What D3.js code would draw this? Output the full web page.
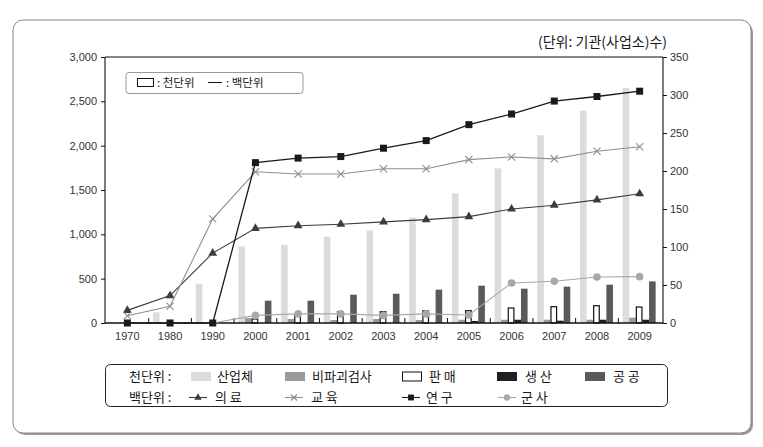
<!DOCTYPE html>
<html><head><meta charset="utf-8">
<script src="https://cdn.jsdelivr.net/npm/d3@7/dist/d3.min.js"></script>
<style>
html,body{margin:0;padding:0;background:#fff;}
svg{display:block;}
.num{font-family:"Liberation Sans Narrow","Arial Narrow","Liberation Sans",Arial,sans-serif;font-size:11px;fill:#333;}
.kr{font-family:"Noto Sans CJK KR","Noto Sans",sans-serif;fill:#1a1a1a;}
</style></head>
<body><svg id="c" width="763" height="447"></svg>
<script>
// ---- data ----
const years = ["1970","1980","1990","2000","2001","2002","2003","2004","2005","2006","2007","2008","2009"];
// bars (left axis, 천단위)
const sanup   = [0,120,443,864,883,974,1045,1190,1462,1744,2117,2395,2650]; // 산업체
const bipagoe = [0,0,0,56,45,34,45,34,37,37,37,37,60];                      // 비파괴검사
const panmae  = [0,0,0,45,94,127,127,138,139,169,184,195,180];              // 판매
const saengsan= [0,0,0,0,0,0,0,0,23,37,26,37,37];                           // 생산
const gonggong= [0,0,0,252,252,319,330,376,421,387,410,432,469];            // 공공
// lines (right axis, 백단위)
const uiryo   = [16.6,36,92,124.5,128,130,133,136,140,150,155,162,170];     // 의료
const gyoyuk  = [9.6,22,137,199,196,196,203,203,215,218.5,216,226,232];     // 교육
const yeongu  = [0,0,0,211,217,219,230,240,261,275,292,298,305];            // 연구
const gunsa   = [null,null,0,10,12,12,10,12,10.5,52.7,55,60.5,61];          // 군사
const leftTicks  = [0,500,1000,1500,2000,2500,3000];
const rightTicks = [0,50,100,150,200,250,300,350];

const barSeries = [
  {name:"산업체", label:"산업체", values:sanup, fill:"#dcdcdc", stroke:"none"},
  {name:"비파괴검사", label:"비파괴검사", values:bipagoe, fill:"#9a9a9a", stroke:"none"},
  {name:"판매", label:"판 매", values:panmae, fill:"#ffffff", stroke:"#111"},
  {name:"생산", label:"생 산", values:saengsan, fill:"#231f20", stroke:"none"},
  {name:"공공", label:"공 공", values:gonggong, fill:"#5a5a5a", stroke:"none"}
];
const lineSeries = [
  {name:"의료", label:"의 료", values:uiryo, color:"#3c3c3c", marker:"tri"},
  {name:"교육", label:"교 육", values:gyoyuk, color:"#8e8e8e", marker:"x"},
  {name:"군사", label:"군 사", values:gunsa, color:"#a8a8a8", marker:"circle"},
  {name:"연구", label:"연 구", values:yeongu, color:"#1a1a1a", marker:"sq"}
];

const svg = d3.select("#c");
const L=105, R=663, T=57, B=323;

// outer rounded frame with shadow
svg.append("rect").attr("x",15).attr("y",22).attr("width",738).attr("height",413).attr("rx",10).attr("fill","#9a9a9a");
svg.append("rect").attr("x",13).attr("y",20).attr("width",738).attr("height",413).attr("rx",10).attr("fill","#fff").attr("stroke","#8a8a8a").attr("stroke-width",1);

const x = d3.scaleBand().domain(years).range([106,661]).padding(0);
const yL = d3.scaleLinear().domain([0,3000]).range([B,T]);
const yR = d3.scaleLinear().domain([0,350]).range([B,T]);
const inner = d3.scaleBand().domain(barSeries.map(d=>d.name)).range([x.bandwidth()/2-17, x.bandwidth()/2+16]).padding(0);

// bars
barSeries.forEach(s=>{
  svg.append("g").selectAll("rect").data(years.map((yr,i)=>({yr,v:s.values[i]})).filter(d=>d.v>0))
    .join("rect")
    .attr("x",d=>x(d.yr)+inner(s.name)+(s.stroke!=="none"?0.5:0))
    .attr("y",d=>yL(d.v))
    .attr("width",inner.bandwidth()-(s.stroke!=="none"?1:0))
    .attr("height",d=>yL(0)-yL(d.v))
    .attr("fill",s.fill).attr("stroke",s.stroke).attr("stroke-width",1.2);
});

// frame lines
const fr = svg.append("g").attr("stroke","#111").attr("stroke-width",1.1).attr("fill","none");
fr.append("line").attr("x1",L).attr("x2",R).attr("y1",T).attr("y2",T);
fr.append("line").attr("x1",L).attr("x2",L).attr("y1",T).attr("y2",B);
fr.append("line").attr("x1",R).attr("x2",R).attr("y1",T).attr("y2",B);

// left axis
const gl = svg.append("g").attr("transform",`translate(${L},0)`)
  .call(d3.axisLeft(yL).tickValues(leftTicks).tickFormat(d3.format(",")).tickSize(4).tickPadding(4));
gl.select(".domain").remove();
gl.selectAll("line").attr("stroke","#111");
gl.selectAll("text").attr("class","num").attr("font-family",null).attr("font-size",null).attr("fill",null);
// right axis
const gr = svg.append("g").attr("transform",`translate(${R},0)`)
  .call(d3.axisRight(yR).tickValues(rightTicks).tickSize(4).tickPadding(3));
gr.select(".domain").remove();
gr.selectAll("line").attr("stroke","#111");
gr.selectAll("text").attr("class","num").attr("font-family",null).attr("font-size",null).attr("fill",null);
// x axis
svg.append("line").attr("x1",L).attr("x2",R).attr("y1",B).attr("y2",B).attr("stroke","#111").attr("stroke-width",1.3);
svg.append("g").selectAll("line").data(years.slice(1)).join("line")
  .attr("x1",d=>x(d)).attr("x2",d=>x(d)).attr("y1",B).attr("y2",B-5).attr("stroke","#111");
svg.append("g").selectAll("text").data(years).join("text").attr("class","num")
  .attr("x",d=>x(d)+x.bandwidth()/2).attr("y",340).attr("text-anchor","middle").text(d=>d);

// markers
function drawMarker(g,type,cx,cy,color,sz){
  sz = sz||1;
  if(type==="tri"){
    g.append("path").attr("d",d3.symbol(d3.symbolTriangle,34*sz)()).attr("transform",`translate(${cx},${cy})`).attr("fill",color);
  } else if(type==="sq"){
    const s=7*Math.sqrt(sz);
    g.append("rect").attr("x",cx-s/2).attr("y",cy-s/2).attr("width",s).attr("height",s).attr("fill",color);
  } else if(type==="circle"){
    g.append("circle").attr("cx",cx).attr("cy",cy).attr("r",3.8*Math.sqrt(sz)).attr("fill",color);
  } else if(type==="x"){
    const s=3.6*Math.sqrt(sz);
    g.append("path").attr("d",`M${cx-s},${cy-s}L${cx+s},${cy+s}M${cx-s},${cy+s}L${cx+s},${cy-s}`).attr("stroke",color).attr("stroke-width",1.1).attr("fill","none");
  }
}

// lines
lineSeries.forEach(s=>{
  const pts = years.map((yr,i)=>({yr,v:s.values[i]})).filter(d=>d.v!==null);
  const line = d3.line().x(d=>x(d.yr)+x.bandwidth()/2).y(d=>yR(d.v));
  const g = svg.append("g");
  g.append("path").attr("d",line(pts)).attr("fill","none").attr("stroke",s.color).attr("stroke-width",s.marker==="sq"?1.3:1.1);
  pts.forEach(d=>{
    if(s.marker==="circle" && d.v===0) return;
    drawMarker(g,s.marker,x(d.yr)+x.bandwidth()/2,yR(d.v),s.color);
  });
});

// unit text
svg.append("text").attr("class","kr").attr("x",667).attr("y",47).attr("text-anchor","end").attr("font-size",14).text("(단위: 기관(사업소)수)");

// inner legend
const il = svg.append("g");
il.append("rect").attr("x",126).attr("y",72.5).attr("width",177).attr("height",21).attr("rx",3).attr("fill","#fff").attr("stroke","#999");
il.append("rect").attr("x",137.5).attr("y",78.5).attr("width",16).attr("height",8).attr("fill","#fff").attr("stroke","#111");
il.append("text").attr("class","kr").attr("x",157).attr("y",87).attr("font-size",11.5).text(": 천단위");
il.append("line").attr("x1",208).attr("x2",222).attr("y1",82.5).attr("y2",82.5).attr("stroke","#111");
il.append("text").attr("class","kr").attr("x",226).attr("y",87).attr("font-size",11.5).text(": 백단위");

// bottom legend
const lg = svg.append("g");
lg.append("rect").attr("x",105.5).attr("y",364.5).attr("width",562).attr("height",42).attr("rx",5).attr("fill","#fff").attr("stroke","#222");
const r1=376.5, r2=397.5;
lg.append("text").attr("class","kr").attr("x",129).attr("y",r1+4.5).attr("font-size",13).text("천단위 :");
lg.append("text").attr("class","kr").attr("x",129).attr("y",r2+4.5).attr("font-size",13).text("백단위 :");
const barLegX = [191,285,402,497,585];
const barTxtX = [217,312,429,525,613];
barSeries.forEach((s,i)=>{
  lg.append("rect").attr("x",barLegX[i]+(s.stroke!=="none"?0.5:0)).attr("y",r1-4.5).attr("width",20-(s.stroke!=="none"?1:0)).attr("height",9)
    .attr("fill",s.fill).attr("stroke",s.stroke);
  lg.append("text").attr("class","kr").attr("x",barTxtX[i]).attr("y",r1+4.5).attr("font-size",13).text(s.label);
});
const lineLegOrder = ["의료","교육","연구","군사"];
const lineLegX = [189,285,402,498];
const lineTxtX = [215,311,426,521];
lineLegOrder.forEach((n,i)=>{
  const s = lineSeries.find(d=>d.name===n);
  lg.append("line").attr("x1",lineLegX[i]).attr("x2",lineLegX[i]+18).attr("y1",r2).attr("y2",r2).attr("stroke",s.color).attr("stroke-width",1.1);
  drawMarker(lg,s.marker,lineLegX[i]+9,r2,s.color,0.7);
  lg.append("text").attr("class","kr").attr("x",lineTxtX[i]).attr("y",r2+4.5).attr("font-size",13).text(s.label);
});
</script></body></html>
